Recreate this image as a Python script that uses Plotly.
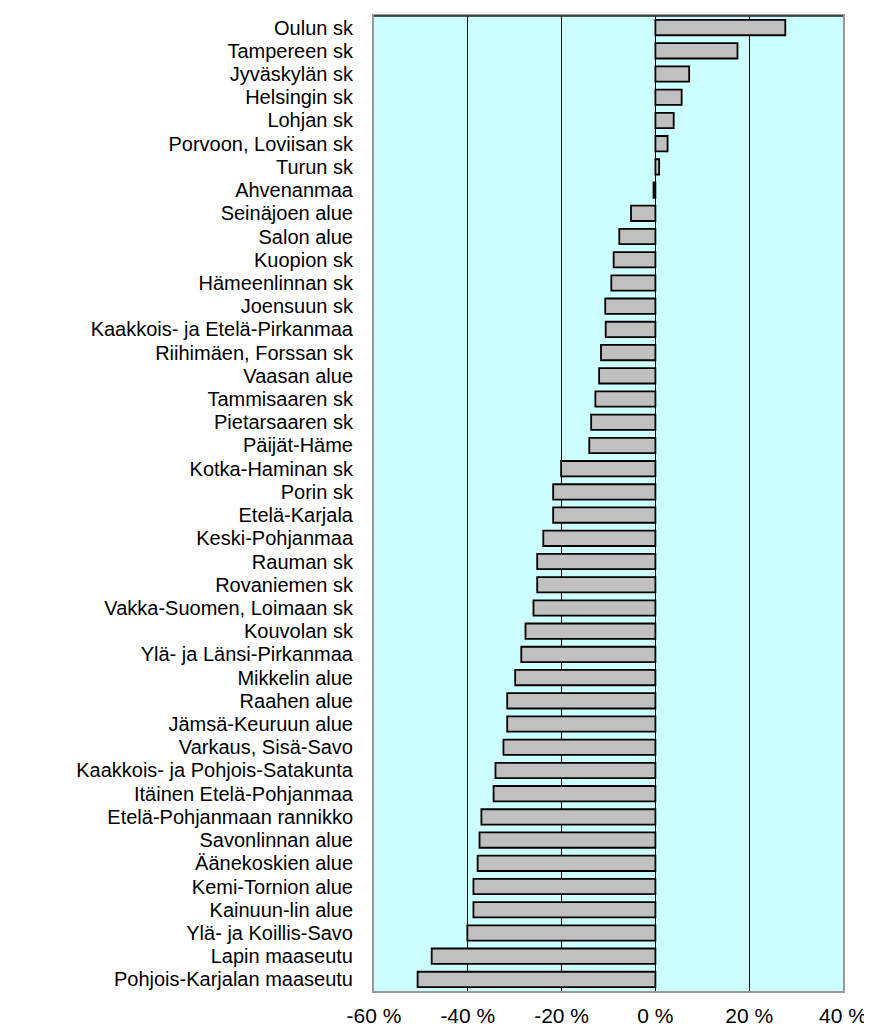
import plotly.graph_objects as go

alueet = [
    "Oulun sk", "Tampereen sk", "Jyväskylän sk", "Helsingin sk", "Lohjan sk",
    "Porvoon, Loviisan sk", "Turun sk", "Ahvenanmaa", "Seinäjoen alue", "Salon alue",
    "Kuopion sk", "Hämeenlinnan sk", "Joensuun sk", "Kaakkois- ja Etelä-Pirkanmaa",
    "Riihimäen, Forssan sk", "Vaasan alue", "Tammisaaren sk", "Pietarsaaren sk",
    "Päijät-Häme", "Kotka-Haminan sk", "Porin sk", "Etelä-Karjala", "Keski-Pohjanmaa",
    "Rauman sk", "Rovaniemen sk", "Vakka-Suomen, Loimaan sk", "Kouvolan sk",
    "Ylä- ja Länsi-Pirkanmaa", "Mikkelin alue", "Raahen alue", "Jämsä-Keuruun alue",
    "Varkaus, Sisä-Savo", "Kaakkois- ja Pohjois-Satakunta", "Itäinen Etelä-Pohjanmaa",
    "Etelä-Pohjanmaan rannikko", "Savonlinnan alue", "Äänekoskien alue",
    "Kemi-Tornion alue", "Kainuun-lin alue", "Ylä- ja Koillis-Savo",
    "Lapin maaseutu", "Pohjois-Karjalan maaseutu",
]

muutos = [
    27.7, 17.5, 7.2, 5.6, 3.9,
    2.6, 0.8, -0.4, -5.2, -7.7,
    -8.9, -9.4, -10.7, -10.6,
    -11.6, -12.0, -12.8, -13.7,
    -14.1, -20.1, -21.8, -21.8, -23.9,
    -25.2, -25.2, -26.0, -27.7,
    -28.6, -29.9, -31.6, -31.6,
    -32.4, -34.1, -34.5,
    -37.1, -37.5, -37.9,
    -38.8, -38.8, -40.1,
    -47.7, -50.7,
]

x_tikit = [-60, -40, -20, 0, 20, 40]

fontti = dict(family="Liberation Sans, Arial, sans-serif", size=20, color="black")

fig = go.Figure(go.Bar(
    x=muutos,
    y=alueet,
    orientation="h",
    width=0.66,
    marker=dict(color="#c0c0c0", line=dict(color="black", width=1.8)),
))

# sivun body-marginaali (8 px) siirtää kuvaa, joten marginaalit sen mukaan
fig.update_layout(
    width=872, height=1036,
    margin=dict(l=366, r=37, t=8, b=53),
    paper_bgcolor="white",
    plot_bgcolor="#ccffff",
    font=fontti,
    showlegend=False,
)

fig.update_xaxes(
    range=[-60, 40],
    tickmode="array",
    tickvals=x_tikit,
    ticktext=[f"{v} %" for v in x_tikit],
    showgrid=True, gridcolor="black", gridwidth=1,
    zeroline=True, zerolinecolor="black", zerolinewidth=1,
    showline=True, linecolor="#999999", linewidth=2, mirror=True,
    ticks="", ticklabelstandoff=5,
    tickfont=dict(size=21),
    automargin=False,
)

fig.update_yaxes(
    autorange="reversed",
    tickmode="array",
    tickvals=alueet,
    showgrid=False,
    showline=True, linecolor="#999999", linewidth=2, mirror=True,
    ticks="", ticklabelstandoff=15,
    automargin=False,
)

# yläreuna on mustempi
fig.add_shape(type="line", xref="paper", yref="paper", x0=0, x1=1, y0=1, y1=1,
              line=dict(color="#222222", width=1.5))

fig.write_html("out.html")
